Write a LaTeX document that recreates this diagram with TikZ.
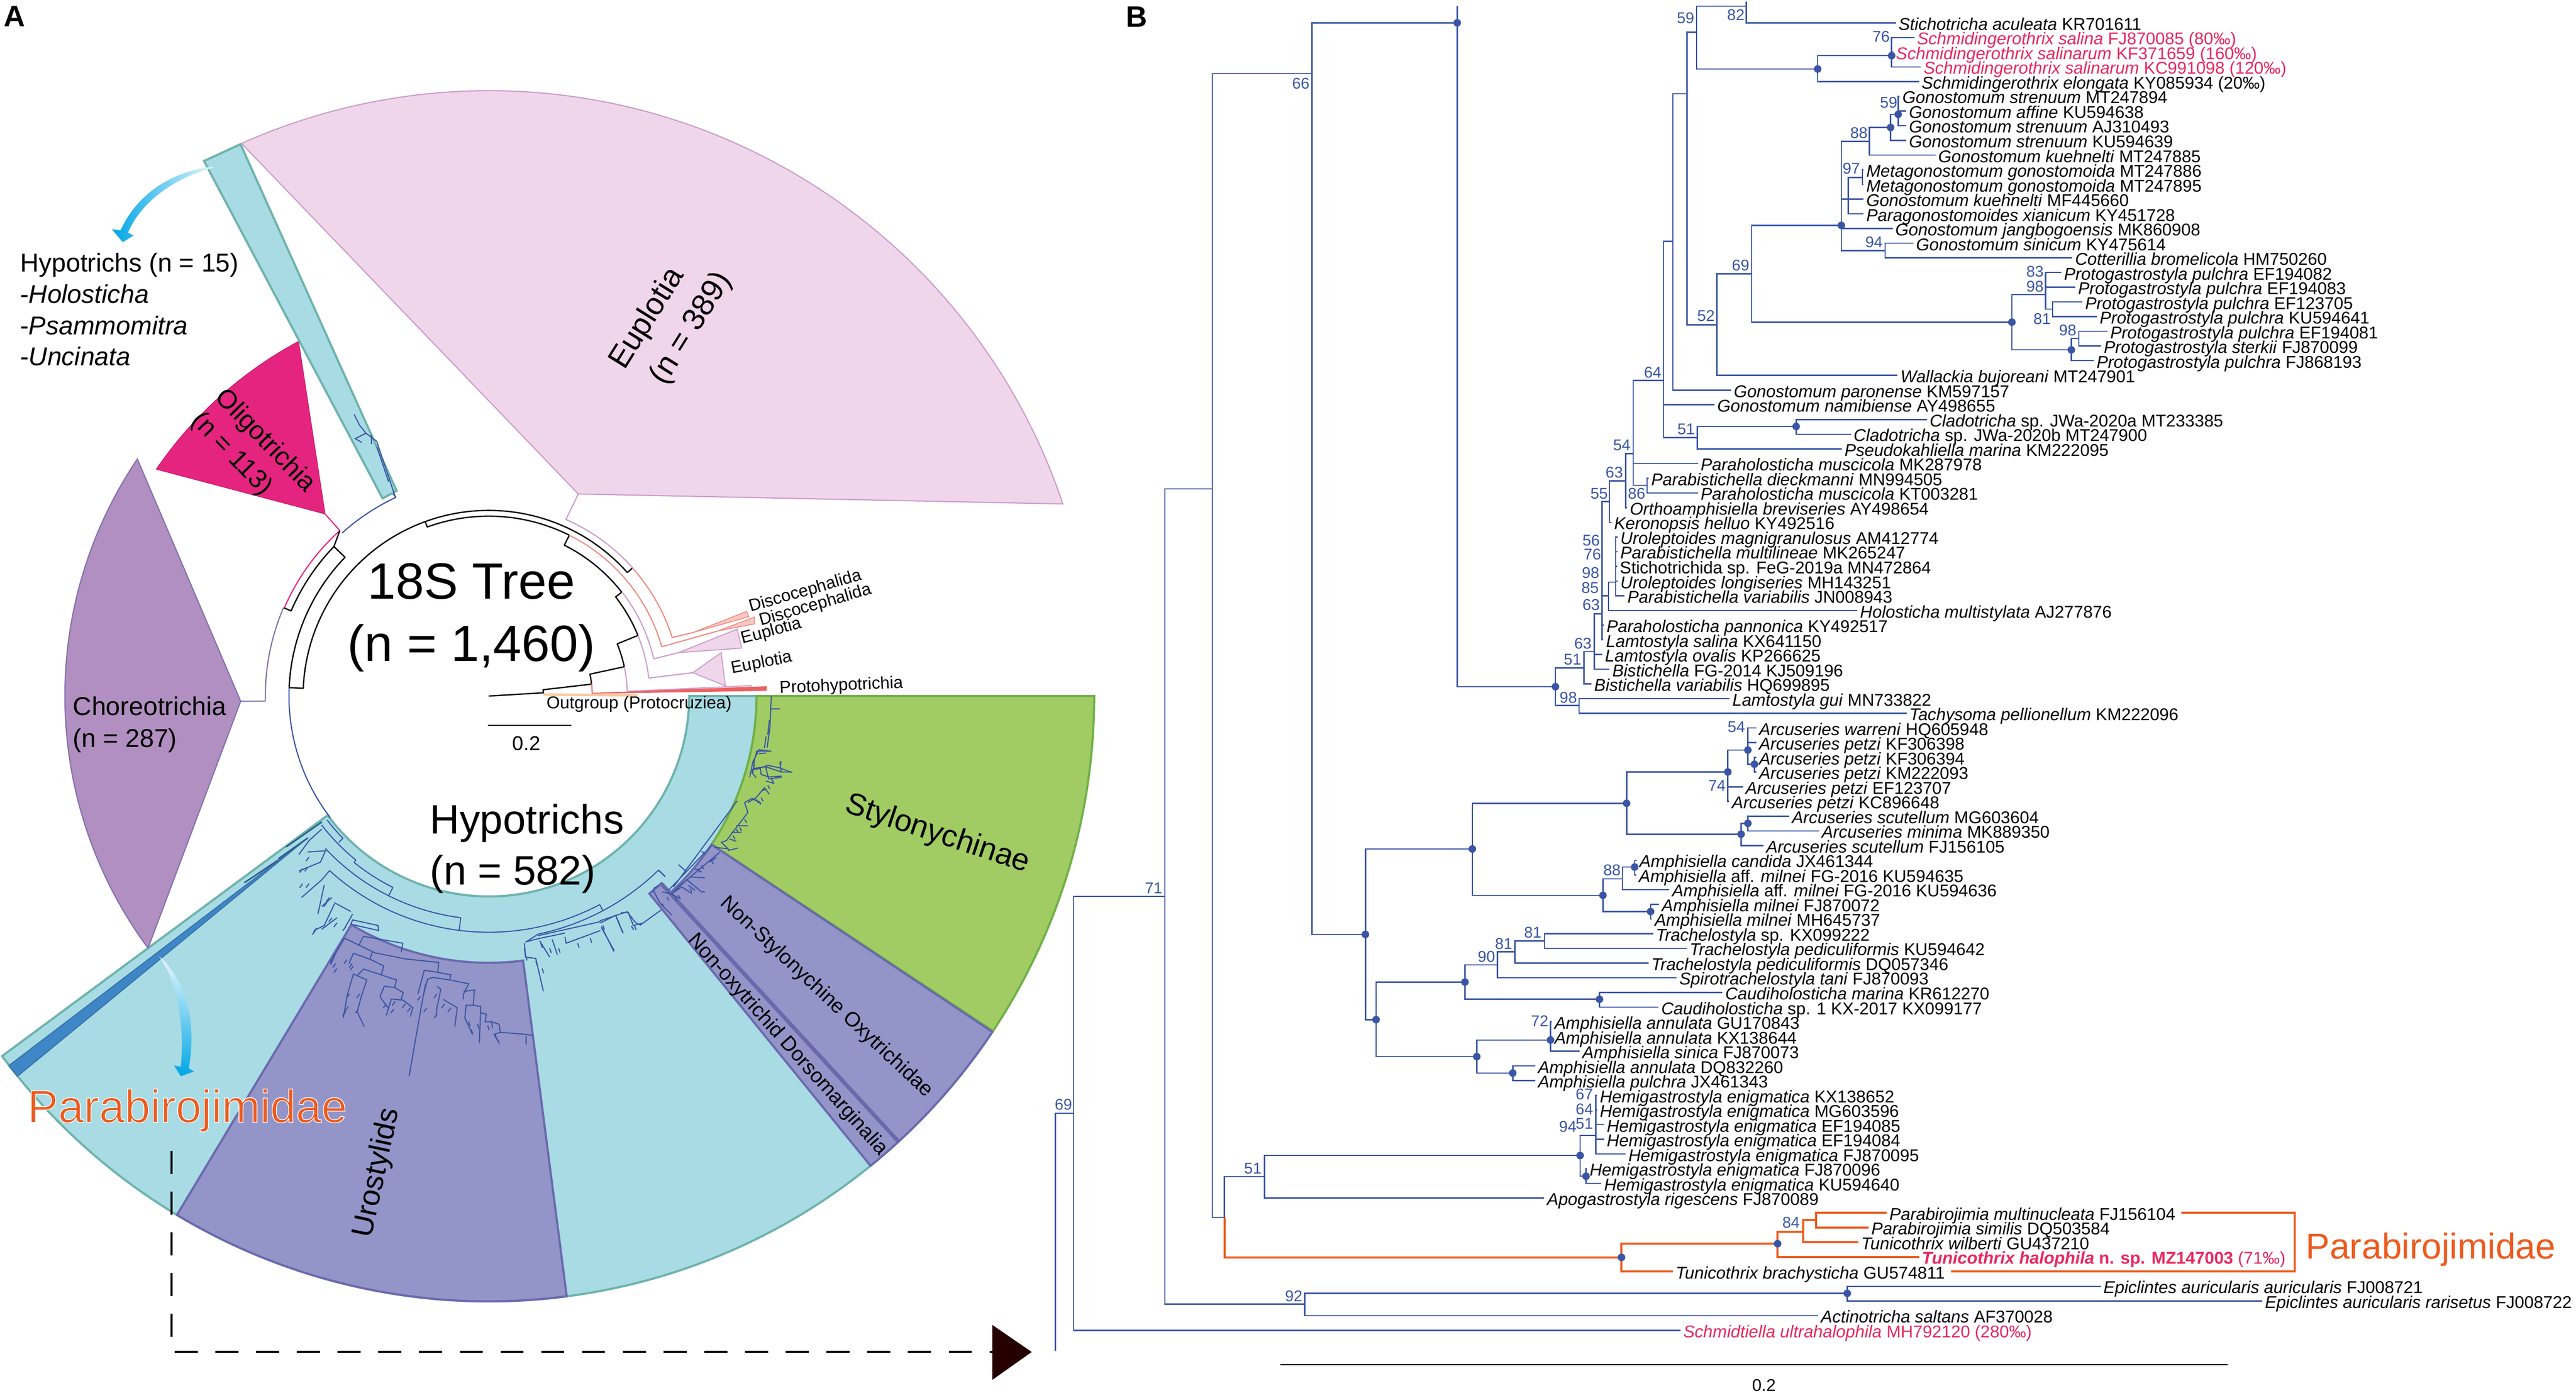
\documentclass[tikz,border=0pt]{standalone}
\usepackage{fontspec}
\setmainfont{Liberation Sans}
\definecolor{treeblue}{HTML}{3A55A5}
\definecolor{tipink}{HTML}{E8285F}
\definecolor{famorange}{HTML}{EE5A1E}
\definecolor{ringteal}{HTML}{A8DBE4}
\definecolor{ringedge}{HTML}{6DB3AC}
\definecolor{urofill}{HTML}{9394C8}
\definecolor{uroedge}{HTML}{6B69AE}
\definecolor{styfill}{HTML}{A1CC64}
\definecolor{styedge}{HTML}{6FB047}
\definecolor{eupfill}{HTML}{F0D6EA}
\definecolor{eupedge}{HTML}{CB9CCB}
\definecolor{chofill}{HTML}{B18FC0}
\definecolor{choedge}{HTML}{7F72AD}
\definecolor{oligofill}{HTML}{E5247F}
\definecolor{discofill}{HTML}{F7C8C2}
\definecolor{discoedge}{HTML}{F08A80}
\definecolor{protored}{HTML}{EE5F5F}
\definecolor{outpeach}{HTML}{F8C9A0}
\definecolor{stripblue}{HTML}{3F86C6}
\definecolor{arrowblue}{HTML}{00A6E6}
\tikzset{
    branch/.style = {draw=treeblue, line width=0.8pt},
    famline/.style = {draw=famorange, line width=1.3pt},
    twig/.style = {draw=treeblue, line width=0.65pt},
    stem/.style = {line width=0.7pt},
    leaf/.style = {
        anchor=west, inner xsep=1.5pt, inner ysep=0pt, xshift=-1.5pt,
        text height=8.8pt, text depth=0pt, font=\fontsize{10.4}{10.4}\selectfont
    },
    boot/.style = {
        inner sep=0pt, text=treeblue, font=\fontsize{9.5}{9.5}\selectfont
    },
    treedot/.style = {circle, fill=treeblue, minimum size=4.6pt, inner sep=0pt},
    clade/.style = {inner sep=0pt, align=center, font=\fontsize{#1}{24}\selectfont},
    tip/.style = {inner sep=0pt, anchor=base west, font=\fontsize{10.4}{10.4}\selectfont}
}
\newcommand{\sector}[5]{
    \draw[#1] (#2:#4pt) arc[start angle=#2, end angle=#3, radius=#4pt]
        -- (#3:#5pt) arc[start angle=#3, end angle=#2, radius=#5pt] -- cycle;
}
\newcommand{\ringarc}[4]{
    \draw[#1] (#2:#4pt) arc[start angle=#2, end angle=#3, radius=#4pt];
}
\begin{document}
\begin{tikzpicture}[x=1pt, y=-1pt]
    \useasboundingbox (0,0) rectangle (1568,847.7);

    \node[inner sep=0pt, font=\fontsize{18}{18}\selectfont\bfseries] (panela) at (9,10) {A};
    \node[inner sep=0pt, font=\fontsize{18}{18}\selectfont\bfseries] (panelb) at (692,10.4) {B};

    \begin{scope}[shift={(297.5,423.7)}]
        \draw[fill=ringteal, draw=ringedge, line width=1.3pt]
            (0:122pt) arc[start angle=0, end angle=-143.5, radius=122pt]
            -- (-143.5:368.5pt) arc[start angle=-143.5, end angle=-33.6, radius=368.5pt]
            -- (-33.6:163pt) arc[start angle=-33.6, end angle=0, radius=163pt] -- cycle;
        \sector{fill=styfill, draw=styedge, line width=1.3pt}{0}{-33.6}{163}{368.5}
        \sector{fill=urofill, draw=uroedge, line width=1.3pt}{-33.7}{-47.4}{163}{368.5}
        \sector{fill=urofill, draw=uroedge, line width=1.3pt}{-47.4}{-50.9}{155}{368.5}
        \draw[draw=uroedge, line width=2.4pt] (-47.4:155pt) -- (-47.4:368.5pt);
        \sector{fill=urofill, draw=uroedge, line width=1.3pt}{239}{277.4}{162.4}{368.5}
        \draw[fill=stripblue, draw=stripblue!85!black, line width=0.6pt]
            (218.1:141pt) -- (217.6:368.7pt) arc[start angle=217.6, end angle=218.9, radius=368.7pt] -- cycle;
        \draw[fill=eupfill, draw=eupedge, line width=0.7pt]
            (54.5,-123) -- (18.5:368.5pt) arc[start angle=18.5, end angle=114.1, radius=368.5pt] -- cycle;
        \draw[fill=chofill, draw=choedge, line width=0.7pt]
            (-151,3.2) -- (216.5:258pt) arc[start angle=216.5, end angle=146, radius=258pt] -- cycle;
        \draw[fill=oligofill, draw=oligofill!85!black, line width=0.4pt]
            (-99.6,-110.8) -- (145.7:245pt) arc[start angle=145.7, end angle=118.2, radius=245pt] -- cycle;

        \ringarc{stem, draw=oligofill}{132}{156.7}{135.5}
        \draw[stem, draw=oligofill] (132:135.5pt) -- (-99.6,-110.8);
        \ringarc{stem, draw=choedge}{156.7}{181.3}{136}
        \draw[stem, draw=choedge] (181.3:136pt) -- (-151,3.2);
        \ringarc{stem, draw=treeblue}{115}{132}{133.5}
        \draw[stem, draw=treeblue] (115:133.5pt) -- (116.5:146pt);
        \ringarc{stem, draw=treeblue}{177.6}{217.5}{121.6}

        \draw[line width=0.8pt, black, line join=round]
            (3.4:0pt) -- (3.4:33.3pt) arc[start angle=3.4, end angle=6.6, radius=33.3pt]
            -- (6.6:63pt) arc[start angle=6.6, end angle=12.2, radius=63pt]
            -- (12.2:84.4pt) arc[start angle=12.2, end angle=22.1, radius=84.4pt]
            -- (22.1:98pt) arc[start angle=22.1, end angle=38, radius=98pt]
            -- (38:102.7pt) arc[start angle=38, end angle=63.4, radius=102.7pt]
            -- (63.4:109.5pt) arc[start angle=63.4, end angle=110, radius=109.5pt]
            -- (110:113pt) arc[start angle=110, end angle=177.6, radius=113pt]
            -- (177.6:121.6pt) arc[start angle=177.6, end angle=136, radius=121.6pt]
            -- (136:131pt) arc[start angle=136, end angle=156.7, radius=131pt] -- (156.7:135.5pt);
        \draw[line width=0.8pt, black] (136:131pt) -- (132:135.5pt);
        \ringarc{line width=0.8pt, black}{110}{41.7}{113}
        \draw[line width=0.8pt, black] (41.7:113pt) -- (41.7:117.2pt);

        \ringarc{stem, draw=eupedge}{41.7}{66.4}{117.3}
        \draw[stem, draw=eupedge] (66.4:117.3pt) -- (54.5,-123);
        \ringarc{stem, draw=discoedge}{41.7}{17.7}{117.2}
        \draw[stem, draw=discoedge] (17.7:117.2pt) -- (124.2,-38.6);
        \ringarc{stem, draw=discoedge}{63.4}{15.9}{109.5}
        \draw[stem, draw=discoedge] (15.9:109.5pt) -- (139.5,-39.6);
        \draw[fill=discofill, draw=discoedge, line width=0.5pt] (124.2,-38.6) -- (156.9,-51.5) -- (158.3,-48.3) -- cycle;
        \draw[fill=discofill, draw=discoedge, line width=0.5pt] (139.5,-39.6) -- (161.7,-48.1) -- (161.7,-43.9) -- cycle;

        \ringarc{stem, draw=eupedge}{38}{12.7}{102.9}
        \draw[stem, draw=eupedge] (12.7:102.9pt) -- (115.5,-26.4);
        \draw[fill=eupfill, draw=eupedge, line width=0.6pt] (115.5,-26.4) -- (151.2,-40.7) -- (154,-29.2) -- cycle;
        \ringarc{stem, draw=eupedge}{22.1}{6.4}{98}
        \draw[stem, draw=eupedge] (6.4:98pt) -- (124.2,-14.2);
        \draw[fill=eupfill, draw=eupedge, line width=0.6pt] (124.2,-14.2) -- (141.5,-26.4) -- (144,-6.2) -- cycle;
        \ringarc{stem, draw=eupedge}{12.2}{2}{84.4}
        \draw[fill=eupfill, draw=eupedge, line width=0.5pt] (2:84.4pt) -- (159.8,-6.4) -- (159.8,-5.2) -- cycle;
        \ringarc{stem, draw=protored}{6.7}{1.5}{63}
        \draw[fill=protored, draw=protored, line width=0.5pt] (1.5:63pt) -- (168.9,-5.7) -- (168.9,-3.4) -- cycle;
        \draw[line width=1.5pt, draw=outpeach] (33.2,-0.9) -- (90.5,-0.4);

        \ringarc{twig}{217.5}{224.3}{124}
        \draw[twig] (224.3:124pt) -- (224.3:127.5pt);
        \ringarc{twig}{217.7}{231}{128.5}
        \ringarc{twig}{231}{243.4}{130.3}
        \draw[twig] (231:128.5pt) -- (231:130.3pt) (243.4:130.3pt) -- (243.4:136pt);
        \ringarc{twig}{223}{262.8}{136}
        \ringarc{twig}{227.6}{298}{143.8}
        \draw[twig] (262.8:136pt) -- (262.8:143.8pt) (298:143.8pt) -- (298:148pt);
        \ringarc{twig}{281.8}{314.3}{148}
        \draw[twig] (281.8:148pt) -- (278.5:151.5pt) (314.3:148pt) -- (314.3:153.5pt);
    \end{scope}

    \draw[fill=ringteal, draw=ringedge, line width=1.3pt] (124.2,98) -- (146.4,87.8) -- (241.4,298.8) -- (232.9,303.4) -- cycle;

    \begin{scope}[x=0.3276pt, y=-0.3276pt]
        \draw[twig] (735,925) -- (700,820) -- (680,805) -- (668,790) -- (658,770)
            (680,805) -- (660,815) -- (672,822) (690,808) -- (690,825) (700,830) -- (722,895);
        \shade[left color=arrowblue, right color=arrowblue!12]
            (395,310) .. controls (320,318) and (255,360) .. (224,428) -- (208,426) -- (228,450)
            -- (248,438) -- (238,432) .. controls (262,375) and (325,330) .. (395,312) -- cycle;
    \end{scope}

    \begin{scope}[shift={(151.1,498.6)}, x=0.1542pt, y=-0.1542pt]
        \draw[twig]
            (380,470) -- (345,530) -- (325,575)
            (380,470) -- (500,528) -- (620,552) -- (752,566) -- (748,605)
            (436,500) -- (455,463) -- (610,490) -- (604,525)
            (490,525) -- (480,553) -- (535,580) -- (525,615) -- (585,635) -- (578,665) -- (612,685) -- (603,712)
            (480,553) -- (415,530) -- (398,570)
            (525,615) -- (455,592) -- (430,618)
            (430,618) -- (415,612) -- (392,690) -- (375,785)
            (430,618) -- (468,635) -- (445,705) -- (430,760) -- (458,820)
            (578,665) -- (537,660) -- (520,702) -- (552,745)
            (612,715) -- (565,710) -- (545,775)
            (612,715) -- (650,745) -- (640,780)
            (750,605) -- (695,597) -- (670,690)
            (700,650) -- (685,730) -- (635,1015)
            (748,605) -- (800,615) -- (795,635) -- (730,625) -- (708,632) -- (690,700)
            (745,660) -- (760,672) -- (745,745) -- (742,780)
            (770,712) -- (825,745) -- (815,820)
            (795,635) -- (870,650) -- (850,690) -- (848,712)
            (850,680) -- (893,675) -- (888,735)
            (888,735) -- (860,735) -- (855,785) -- (885,850)
            (888,735) -- (918,740) -- (912,885)
            (918,765) -- (940,770) -- (935,800) -- (960,800) -- (965,825)
            (960,800) -- (990,810) -- (995,842) -- (970,850) -- (985,875)
            (995,842) -- (1100,850) -- (1122,855) (1097,855) -- (1097,890)
            (405,415) -- (515,440) -- (512,420) -- (412,398) -- (405,415)
            (412,375) -- (380,432)
            (290,40) -- (240,85) -- (200,140)
            (235,130) -- (305,125) -- (285,170) -- (200,205)
            (320,205) -- (290,240) -- (210,310)
            (300,260) -- (275,375)
            (330,310) -- (290,345)
            (340,335) -- (300,420) -- (260,440)
            (350,390) -- (290,435)
            (340,330) -- (405,365)
            (1090,490) -- (1095,545) -- (1135,550) -- (1165,680)
            (1095,545) -- (1090,510)
            (1095,485) -- (1145,472) -- (1250,450)
            (1145,460) -- (1390,405)
            (1150,480) -- (1190,545)
            (1200,475) -- (1220,535)
            (1250,465) -- (1255,490) -- (1390,440)
            (1395,430) -- (1445,520)
            (1390,410) -- (1450,380) -- (1480,450)
            (1470,370) -- (1500,368) -- (1520,420) -- (1560,410);
        \foreach \x/\y in {345/530, 335/550, 345/570, 350/590, 390/555, 410/570, 415/580, 400/690,
            395/740, 385/760, 440/690, 435/750, 545/730, 580/720, 575/750, 620/730, 640/745,
            680/700, 705/745, 745/690, 745/770, 775/730, 800/745, 240/150, 235/190, 215/195,
            240/255, 215/255, 320/310, 310/330, 330/390, 350/410, 385/425, 270/430, 265/440}
            \draw[twig] (\x,\y) -- ++(-12,16);
        \foreach \x/\y in {870/800, 880/830, 905/810, 945/815, 975/850, 985/870, 1095/540, 1135/560,
            1160/590, 1155/490, 1190/510, 1225/510, 1300/490, 1350/470, 1400/420, 1460/400, 1525/420}
            \draw[twig] (\x,\y) -- ++(6,18);
    \end{scope}

    \begin{scope}[shift={(0,468.4)}, x=0.2419pt, y=-0.2419pt]
        \shade[top color=arrowblue!8, bottom color=arrowblue]
            (400,470) .. controls (445,530) and (465,640) .. (455,748) -- (438,745) -- (455,772)
            -- (488,760) -- (475,752) .. controls (495,640) and (470,530) .. (400,470) -- cycle;
        \draw[twig, draw=stripblue!70!black, line width=0.9pt]
            (700,225) -- (775,172) (720,195) -- (810,132) (615,285) -- (700,228);
    \end{scope}

    \begin{scope}[shift={(362.6,438.2)}, x=0.1007pt, y=-0.1007pt]
        \draw[twig]
            (35,1250) -- (110,1400)
            (25,1215) -- (190,1160) -- (240,1225) -- (270,1240) -- (395,1150)
            (120,1180) -- (165,1290)
            (215,1245) -- (230,1270)
            (350,1020) -- (380,1000)
            (345,1025) -- (390,1110) -- (460,1180)
            (400,1040) -- (450,1050) -- (510,1080)
            (460,1050) -- (520,1010) -- (580,1050)
            (555,970) -- (640,1040) -- (660,1040)
            (575,950) -- (660,955)
            (470,1040) -- (560,960)
            (560,1000) -- (600,1030)
            (500,1010) -- (750,800)
            (600,900) -- (640,920)
            (690,860) -- (730,830)
            (440,1030) -- (700,760)
            (470,1010) -- (855,490)
            (380,910) -- (420,945) (500,875) -- (540,910) (640,795) -- (660,810)
            (720,770) -- (800,780) -- (760,740) -- (790,730) -- (920,560) -- (900,500) -- (945,475) -- (1000,505)
            (800,790) -- (860,775) (810,720) -- (850,735) (850,640) -- (920,640) (820,680) -- (880,680)
            (920,500) -- (970,470) -- (1020,410) -- (1050,450)
            (1030,370) -- (1080,385) (1000,430) -- (1030,420)
            (960,270) -- (945,320) -- (970,350)
            (945,300) -- (995,295) -- (1000,330) -- (1045,345) -- (1125,340)
            (1000,290) -- (1040,275) -- (1110,290) -- (1185,318)
            (1120,250) -- (1115,295) (1060,350) -- (1075,380)
            (975,185) -- (960,240) -- (950,320)
            (985,180) -- (1060,190) (985,205) -- (1030,200)
            (1030,100) -- (1020,170) (1050,0) -- (1040,90);
        \foreach \x/\y in {970/480, 985/490, 1000/470, 1040/395, 870/650, 900/600, 850/660, 830/700,
            620/900, 640/880, 700/850, 570/1020, 500/1060, 480/1070, 430/1070, 400/1110}
            \draw[twig] (\x,\y) -- ++(12,22);
    \end{scope}

    \begin{scope}[shift={(302.2,317.3)}, x=0.1927pt, y=-0.106pt]
        \draw[twig]
            (868,1005) -- (864,1180) -- (855,1300) (868,1078) -- (895,1078)
            (820,1320) -- (868,1320)
            (830,1310) -- (810,1380) -- (800,1470)
            (810,1420) -- (850,1410) -- (900,1440) -- (935,1440) (895,1380) -- (900,1440)
            (850,1410) -- (860,1480) -- (900,1470);
    \end{scope}

    \node[inner sep=0pt, align=center, font=\fontsize{31}{37.8}\selectfont] (treetitle) at (287,376) {18S Tree\\(n = 1,460)};
    \node[inner sep=0pt, anchor=west, align=left, font=\fontsize{25}{31}\selectfont] (hypoinner) at (261.5,516.5) {Hypotrichs\\(n = 582)};
    \node[inner sep=0pt, rotate=58, align=left, font=\fontsize{19}{25.7}\selectfont] (euplabel) at (408.6,195.4) {Euplotia\\\hspace*{5pt}(n = 389)};
    \node[inner sep=0pt, rotate=-46, align=left, font=\fontsize{16}{20.3}\selectfont] (oligolabel) at (153.9,275.6) {Oligotrichia\\(n = 113)};
    \node[inner sep=0pt, align=left, font=\fontsize{15.7}{19.4}\selectfont, anchor=west] (cholabel) at (44.3,441) {Choreotrichia\\(n = 287)};
    \node[inner sep=0pt, align=left, font=\fontsize{15.7}{19}\selectfont, anchor=north west] (hypolist) at (12.1,154) {Hypotrichs (n = 15)\\-\textit{Holosticha}\\-\textit{Psammomitra}\\-\textit{Uncinata}};
    \node[clade=18.8, rotate=-18.4] (stylabel) at (570.5,508) {Stylonychinae};
    \node[clade=12.6, rotate=-43.2] (oxylabel) at (503,607) {Non-Stylonychine Oxytrichidae};
    \node[clade=12.6, rotate=-48.3] (dorlabel) at (479.4,636) {Non-oxytrichid Dorsomarginalia};
    \node[clade=18.2, rotate=78] (urolabel) at (229.8,714) {Urostylids};
    \node[tip, rotate=16] (disco1) at (457,372.5) {Discocephalida};
    \node[tip, rotate=16] (disco2) at (463,381) {Discocephalida};
    \node[tip, rotate=15] (euplo1) at (452,392) {Euplotia};
    \node[tip, rotate=11] (euplo2) at (445.5,410) {Euplotia};
    \node[tip, rotate=2.5] (proto) at (474.5,422) {Protohypotrichia};
    \node[inner sep=0pt, font=\fontsize{10.5}{10.5}\selectfont] (outgroup) at (389,428.5) {Outgroup (Protocruziea)};
    \coordinate (bara) at (297.1,441.6);
    \coordinate (barb) at (347.9,441.6);
    \draw[line width=0.7pt] (bara) -- (barb);
    \node[inner sep=0pt, font=\fontsize{12.2}{12.2}\selectfont] (barlabela) at (320.4,452.7) {0.2};

    \node[inner sep=0pt, text=famorange, font=\fontsize{28}{28}\selectfont] (famleft) at (114,676)
        {\special{pdf:code 2 Tr 0.45 w 1 1 1 RG}Parabirojimidae\special{pdf:code 0 Tr}};

    \coordinate (dashstart) at (104.5,700.6);
    \coordinate (dashcorner) at (104.5,822.8);
    \coordinate (pointtop) at (604,806.5);
    \coordinate (pointtip) at (628,823);
    \coordinate (pointlow) at (604,840);
    \fill[black!85!red] (pointtop) -- (pointtip) -- (pointlow) -- cycle;
    \draw[line width=1.1pt, dash pattern=on 14pt off 10.8pt] (dashstart) -- (dashcorner) -- (pointtop |- dashcorner);

    \foreach \name/\x/\y in {
        n0/642.4/677.7, n1/653.5/677.7, n2/709.1/545.7, n3/737.9/297.6, n4/794.1/793.9, n5/798.5/44.9,
        n6/745.3/741, n7/887/13.9, n8/831.1/568.8, n9/946.8/418, n10/964.1/406.6, n11/961.2/429.5,
        n12/970.5/396.7, n13/975.1/373.6, n14/979.1/362.6, n15/979.7/305.3, n16/983.5/354.4,
        n17/989.6/292.7, n18/994.1/276.2, n19/1012.6/231.6, n20/1002.6/295.4, n21/1018.2/147,
        n22/1033.2/266.4, n23/1093.3/259.6, n24/1026.9/57.1, n25/1032.6/19.6, n26/1045.1/197.7,
        n27/1063/3.7, n28/1106.4/42, n29/1151.4/33.9, n30/1066.2/166.6, n31/1120.8/137.2,
        n32/1224.6/196.1, n33/1137.9/86, n34/1125/121.2, n35/1147.4/152.5, n36/1150.8/77.6,
        n37/1155.4/69.6, n38/1133.6/108, n39/1245.1/179.4, n40/1260.8/213, n41/1249.4/188.2,
        n42/1265.3/206, n43/896.2/516.8, n44/837.6/620.7, n45/990.1/489, n46/975.7/545,
        n47/1051.7/469.9, n48/1059.8/507.8, n49/1063.9/456.6, n50/1067.9/465.2, n51/1063.9/501.2,
        n52/987.5/535, n53/1004.7/554.9, n54/995/527.8, n55/891.7/597.8, n56/898.9/643.2,
        n57/911.4/587.4, n58/973.6/608.3, n59/922.2/579.4, n60/940.2/572.7, n61/943.8/633.1,
        n62/920.8/653.2, n63/769.8/716.2, n64/987/765.4, n65/961.8/703.4, n66/971.3/691.2,
        n67/965.4/716, n68/1082/757.1, n69/1097.5/749.7, n70/1105.4/742.5, n71/1124.4/787.3,
        rootend/642.4/822.4, topend/887/3.7, cutend/1063/1, famcorner/1396.8/755}
        \coordinate (\name) at (\x,\y);

    \foreach \n/\x/\lbl in {
        1/1155.4/{\textit{Stichotricha aculeata} KR701611},
        2/1166.7/{\textcolor{tipink}{\textit{Schmidingerothrix salina} FJ870085 (80‰)}},
        3/1153.9/{\textcolor{tipink}{\textit{Schmidingerothrix salinarum} KF371659 (160‰)}},
        4/1170.7/{\textcolor{tipink}{\textit{Schmidingerothrix salinarum} KC991098 (120‰)}},
        5/1169.5/{\textit{Schmidingerothrix elongata} KY085934 (20‰)},
        6/1157.8/{\textit{Gonostomum strenuum} MT247894},
        7/1161.8/{\textit{Gonostomum affine} KU594638},
        8/1161.8/{\textit{Gonostomum strenuum} AJ310493},
        9/1161.8/{\textit{Gonostomum strenuum} KU594639},
        10/1179.6/{\textit{Gonostomum kuehnelti} MT247885},
        11/1135.8/{\textit{Metagonostomum gonostomoida} MT247886},
        12/1135.8/{\textit{Metagonostomum gonostomoida} MT247895},
        13/1135.8/{\textit{Gonostomum kuehnelti} MF445660},
        14/1135.8/{\textit{Paragonostomoides xianicum} KY451728},
        15/1153.5/{\textit{Gonostomum jangbogoensis} MK860908},
        16/1166.1/{\textit{Gonostomum sinicum} KY475614},
        17/1262.9/{\textit{Cotterillia bromelicola} HM750260},
        18/1256.2/{\textit{Protogastrostyla pulchra} EF194082},
        19/1264.7/{\textit{Protogastrostyla pulchra} EF194083},
        20/1269/{\textit{Protogastrostyla pulchra} EF123705},
        21/1277.9/{\textit{Protogastrostyla pulchra} KU594641},
        22/1284.3/{\textit{Protogastrostyla pulchra} EF194081},
        23/1280.4/{\textit{Protogastrostyla sterkii} FJ870099},
        24/1276/{\textit{Protogastrostyla pulchra} FJ868193},
        25/1156.6/{\textit{Wallackia bujoreani} MT247901},
        26/1055.2/{\textit{Gonostomum paronense} KM597157},
        27/1045.1/{\textit{Gonostomum namibiense} AY498655},
        28/1174.4/{\textit{Cladotricha} sp. JWa-2020a MT233385},
        29/1128.1/{\textit{Cladotricha} sp. JWa-2020b MT247900},
        30/1122.6/{\textit{Pseudokahliella marina} KM222095},
        31/1035/{\textit{Paraholosticha muscicola} MK287978},
        32/1004.9/{\textit{Parabistichella dieckmanni} MN994505},
        33/1035/{\textit{Paraholosticha muscicola} KT003281},
        34/991.9/{\textit{Orthoamphisiella breviseries} AY498654},
        35/982.3/{\textit{Keronopsis helluo} KY492516},
        36/986.1/{\textit{Uroleptoides magnigranulosus} AM412774},
        37/986.1/{\textit{Parabistichella multilineae} MK265247},
        38/985.8/{Stichotrichida sp. FeG-2019a MN472864},
        39/986.1/{\textit{Uroleptoides longiseries} MH143251},
        40/990.4/{\textit{Parabistichella variabilis} JN008943},
        41/1132/{\textit{Holosticha multistylata} AJ277876},
        42/977.7/{\textit{Paraholosticha pannonica} KY492517},
        43/977.4/{\textit{Lamtostyla salina} KX641150},
        44/976.8/{\textit{Lamtostyla ovalis} KP266625},
        45/981.2/{\textit{Bistichella} FG-2014 KJ509196},
        46/970.2/{\textit{Bistichella variabilis} HQ699895},
        47/1054.3/{\textit{Lamtostyla gui} MN733822},
        48/1162/{\textit{Tachysoma pellionellum} KM222096},
        49/1070.5/{\textit{Arcuseries warreni} HQ605948},
        50/1070.5/{\textit{Arcuseries petzi} KF306398},
        51/1070.5/{\textit{Arcuseries petzi} KF306394},
        52/1070.5/{\textit{Arcuseries petzi} KM222093},
        53/1062.4/{\textit{Arcuseries petzi} EF123707},
        54/1054/{\textit{Arcuseries petzi} KC896648},
        55/1090.5/{\textit{Arcuseries scutellum} MG603604},
        56/1108.7/{\textit{Arcuseries minima} MK889350},
        57/1074.9/{\textit{Arcuseries scutellum} FJ156105},
        58/997.7/{\textit{Amphisiella candida} JX461344},
        59/997.4/{\textit{Amphisiella} aff. \textit{milnei} FG-2016 KU594635},
        60/1017.6/{\textit{Amphisiella} aff. \textit{milnei} FG-2016 KU594636},
        61/1011.3/{\textit{Amphisiella milnei} FJ870072},
        62/1007/{\textit{Amphisiella milnei} MH645737},
        63/1007.7/{\textit{Trachelostyla} sp. KX099222},
        64/1028.3/{\textit{Trachelostyla pediculiformis} KU594642},
        65/1005/{\textit{Trachelostyla pediculiformis} DQ057346},
        66/1022/{\textit{Spirotrachelostyla tani} FJ870093},
        67/1050/{\textit{Caudiholosticha marina} KR612270},
        68/1011/{\textit{Caudiholosticha} sp. 1 KX-2017 KX099177},
        69/946/{\textit{Amphisiella annulata} GU170843},
        70/946/{\textit{Amphisiella annulata} KX138644},
        71/963/{\textit{Amphisiella sinica} FJ870073},
        72/936/{\textit{Amphisiella annulata} DQ832260},
        73/936/{\textit{Amphisiella pulchra} JX461343},
        74/973.6/{\textit{Hemigastrostyla enigmatica} KX138652},
        75/973.6/{\textit{Hemigastrostyla enigmatica} MG603596},
        76/977.9/{\textit{Hemigastrostyla enigmatica} EF194085},
        77/977.9/{\textit{Hemigastrostyla enigmatica} EF194084},
        78/991/{\textit{Hemigastrostyla enigmatica} FJ870095},
        79/967.4/{\textit{Hemigastrostyla enigmatica} FJ870096},
        80/976.2/{\textit{Hemigastrostyla enigmatica} KU594640},
        81/941.5/{\textit{Apogastrostyla rigescens} FJ870089},
        82/1149.9/{\textit{Parabirojimia multinucleata} FJ156104},
        83/1138.9/{\textit{Parabirojimia similis} DQ503584},
        84/1132.7/{\textit{Tunicothrix wilberti} GU437210},
        85/1169.6/{\textcolor{tipink}{\textbf{\textit{Tunicothrix halophila} n. sp. MZ147003} (71‰)}},
        86/1019.8/{\textit{Tunicothrix brachysticha} GU574811},
        87/1280.2/{\textit{Epiclintes auricularis auricularis} FJ008721},
        88/1378.5/{\textit{Epiclintes auricularis rarisetus} FJ008722},
        89/1108.2/{\textit{Actinotricha saltans} AF370028},
        90/1024.4/{\textcolor{tipink}{\textit{Schmidtiella ultrahalophila} MH792120 (280‰)}}}
        \node[leaf] (l\n) at (\x,{13.9+8.943*(\n-1)}) {\lbl};

    \foreach \p/\kids in {
        n0/{n1,rootend}, n1/{n2,l90}, n2/{n3,n4}, n3/{n5,n6}, n4/{n71,l89}, n5/{n7,n8}, n7/{topend,n9},
        n9/{n10,n11}, n10/{n12,l46}, n11/{l47,l48}, n12/{n13,l44,l45}, n13/{n15,n14,l42,l43},
        n14/{n16,l41}, n15/{n17,l35}, n16/{l36,l37,l38,l39,l40}, n17/{n18,l34}, n18/{n19,l31,n20},
        n19/{n21,l27,n22}, n20/{l32,l33}, n21/{n24,l26}, n22/{n23,l30}, n23/{l28,l29}, n24/{n25,n26},
        n25/{n27,n28}, n26/{n30,l25}, n27/{cutend,l1}, n28/{n29,l5}, n29/{l2,l3,l4}, n30/{n31,n32},
        n31/{n33,n34,l15,n35}, n32/{n39,n40}, n33/{n36,l10}, n34/{n38,l13,l14}, n35/{l16,l17},
        n36/{n37,l9}, n37/{l6,l7,l8}, n38/{l11,l12}, n39/{l18,l19,n41}, n40/{n42,l24}, n41/{l20,l21},
        n42/{l22,l23}, n8/{n43,n44}, n43/{n45,n46}, n44/{n55,n56}, n45/{n47,n48}, n46/{n52,n53},
        n47/{n49,l53,l54}, n48/{n51,l57}, n49/{l49,l50,n50}, n50/{l51,l52}, n51/{l55,l56},
        n52/{n54,l60}, n53/{l61,l62}, n54/{l58,l59}, n55/{n57,n58}, n56/{n61,n62}, n57/{n59,l66},
        n58/{l67,l68}, n59/{n60,l65}, n60/{l63,l64}, n61/{l69,l70,l71}, n62/{l72,l73}, n6/{n63},
        n63/{n65,l81}, n65/{n66,n67}, n66/{l74,l75,l76,l77,l78}, n67/{l79,l80}, n71/{l87,l88}}
        \foreach \c in \kids
            \draw[branch] (\p) |- (\c);

    \foreach \p/\kids in {n6/{n64}, n64/{n68,l86}, n68/{n69,l85}, n69/{n70,l84}, n70/{l82,l83}}
        \foreach \c in \kids
            \draw[famline] (\p) |- (\c);

    \draw[famline] ([xshift=2pt]l82.east) -| (famcorner) |- ([xshift=2pt]l86.east);
    \node[inner sep=0pt, anchor=west, text=famorange, font=\fontsize{21.9}{21.9}\selectfont] (famright) at (1403.3,760.6) {Parabirojimidae};

    \foreach \c in {n7,n9,n23,n28,n29,n31,n32,n36,n37,n40,n8,n43,n44,n45,n46,n47,n48,n49,n50,n51,
        n53,n54,n55,n56,n58,n61,n62,n65,n67,n64,n68,n71}
        \node[treedot] (dot\c) at (\c) {};

    \foreach \x/\y/\v [count=\i] in {
        791.8/50.7/66, 1026/11/59, 1056.6/9.2/82, 1059.5/161.5/69, 1038.4/192.3/52, 1006/226.7/64,
        1026.3/261.3/51, 987.2/271/54, 982.6/287.6/63, 973.4/300.4/55, 996.2/300.4/86, 968.5/329.1/56,
        969.3/337.5/76, 968.2/348.9/98, 967.9/357.7/85, 968.5/368.1/63, 963.5/391.6/63, 957.2/401.5/51,
        954.6/424.5/98, 1056.9/442.5/54, 1045.1/478.2/74, 981.2/529.6/88, 702.2/540.8/71, 933/567.6/81,
        915.3/574.4/81, 904.8/582.4/90, 937.2/621.5/72, 964.4/666/67, 964.4/675.1/64, 964.4/683.9/51,
        954.3/686/94, 762.6/711.2/51, 1090.2/744.1/84, 647.3/672.4/69, 787.5/789/92, 1145/22.3/76,
        1149.6/62.3/59, 1131.5/80.9/88, 1126.9/102.5/97, 1140.7/147.4/94, 1238.7/165.3/83, 1238.7/174.3/98,
        1243/194.1/81, 1258.6/201/98}
        \node[boot] (boot\i) at (\x,\y) {\v};

    \coordinate (barc) at (779.3,830.7);
    \coordinate (bard) at (1356.1,830.7);
    \draw[line width=0.7pt] (barc) -- (bard);
    \node[inner sep=0pt, font=\fontsize{10.4}{10.4}\selectfont] (barlabelb) at (1073.7,843.2) {0.2};
\end{tikzpicture}
\end{document}
